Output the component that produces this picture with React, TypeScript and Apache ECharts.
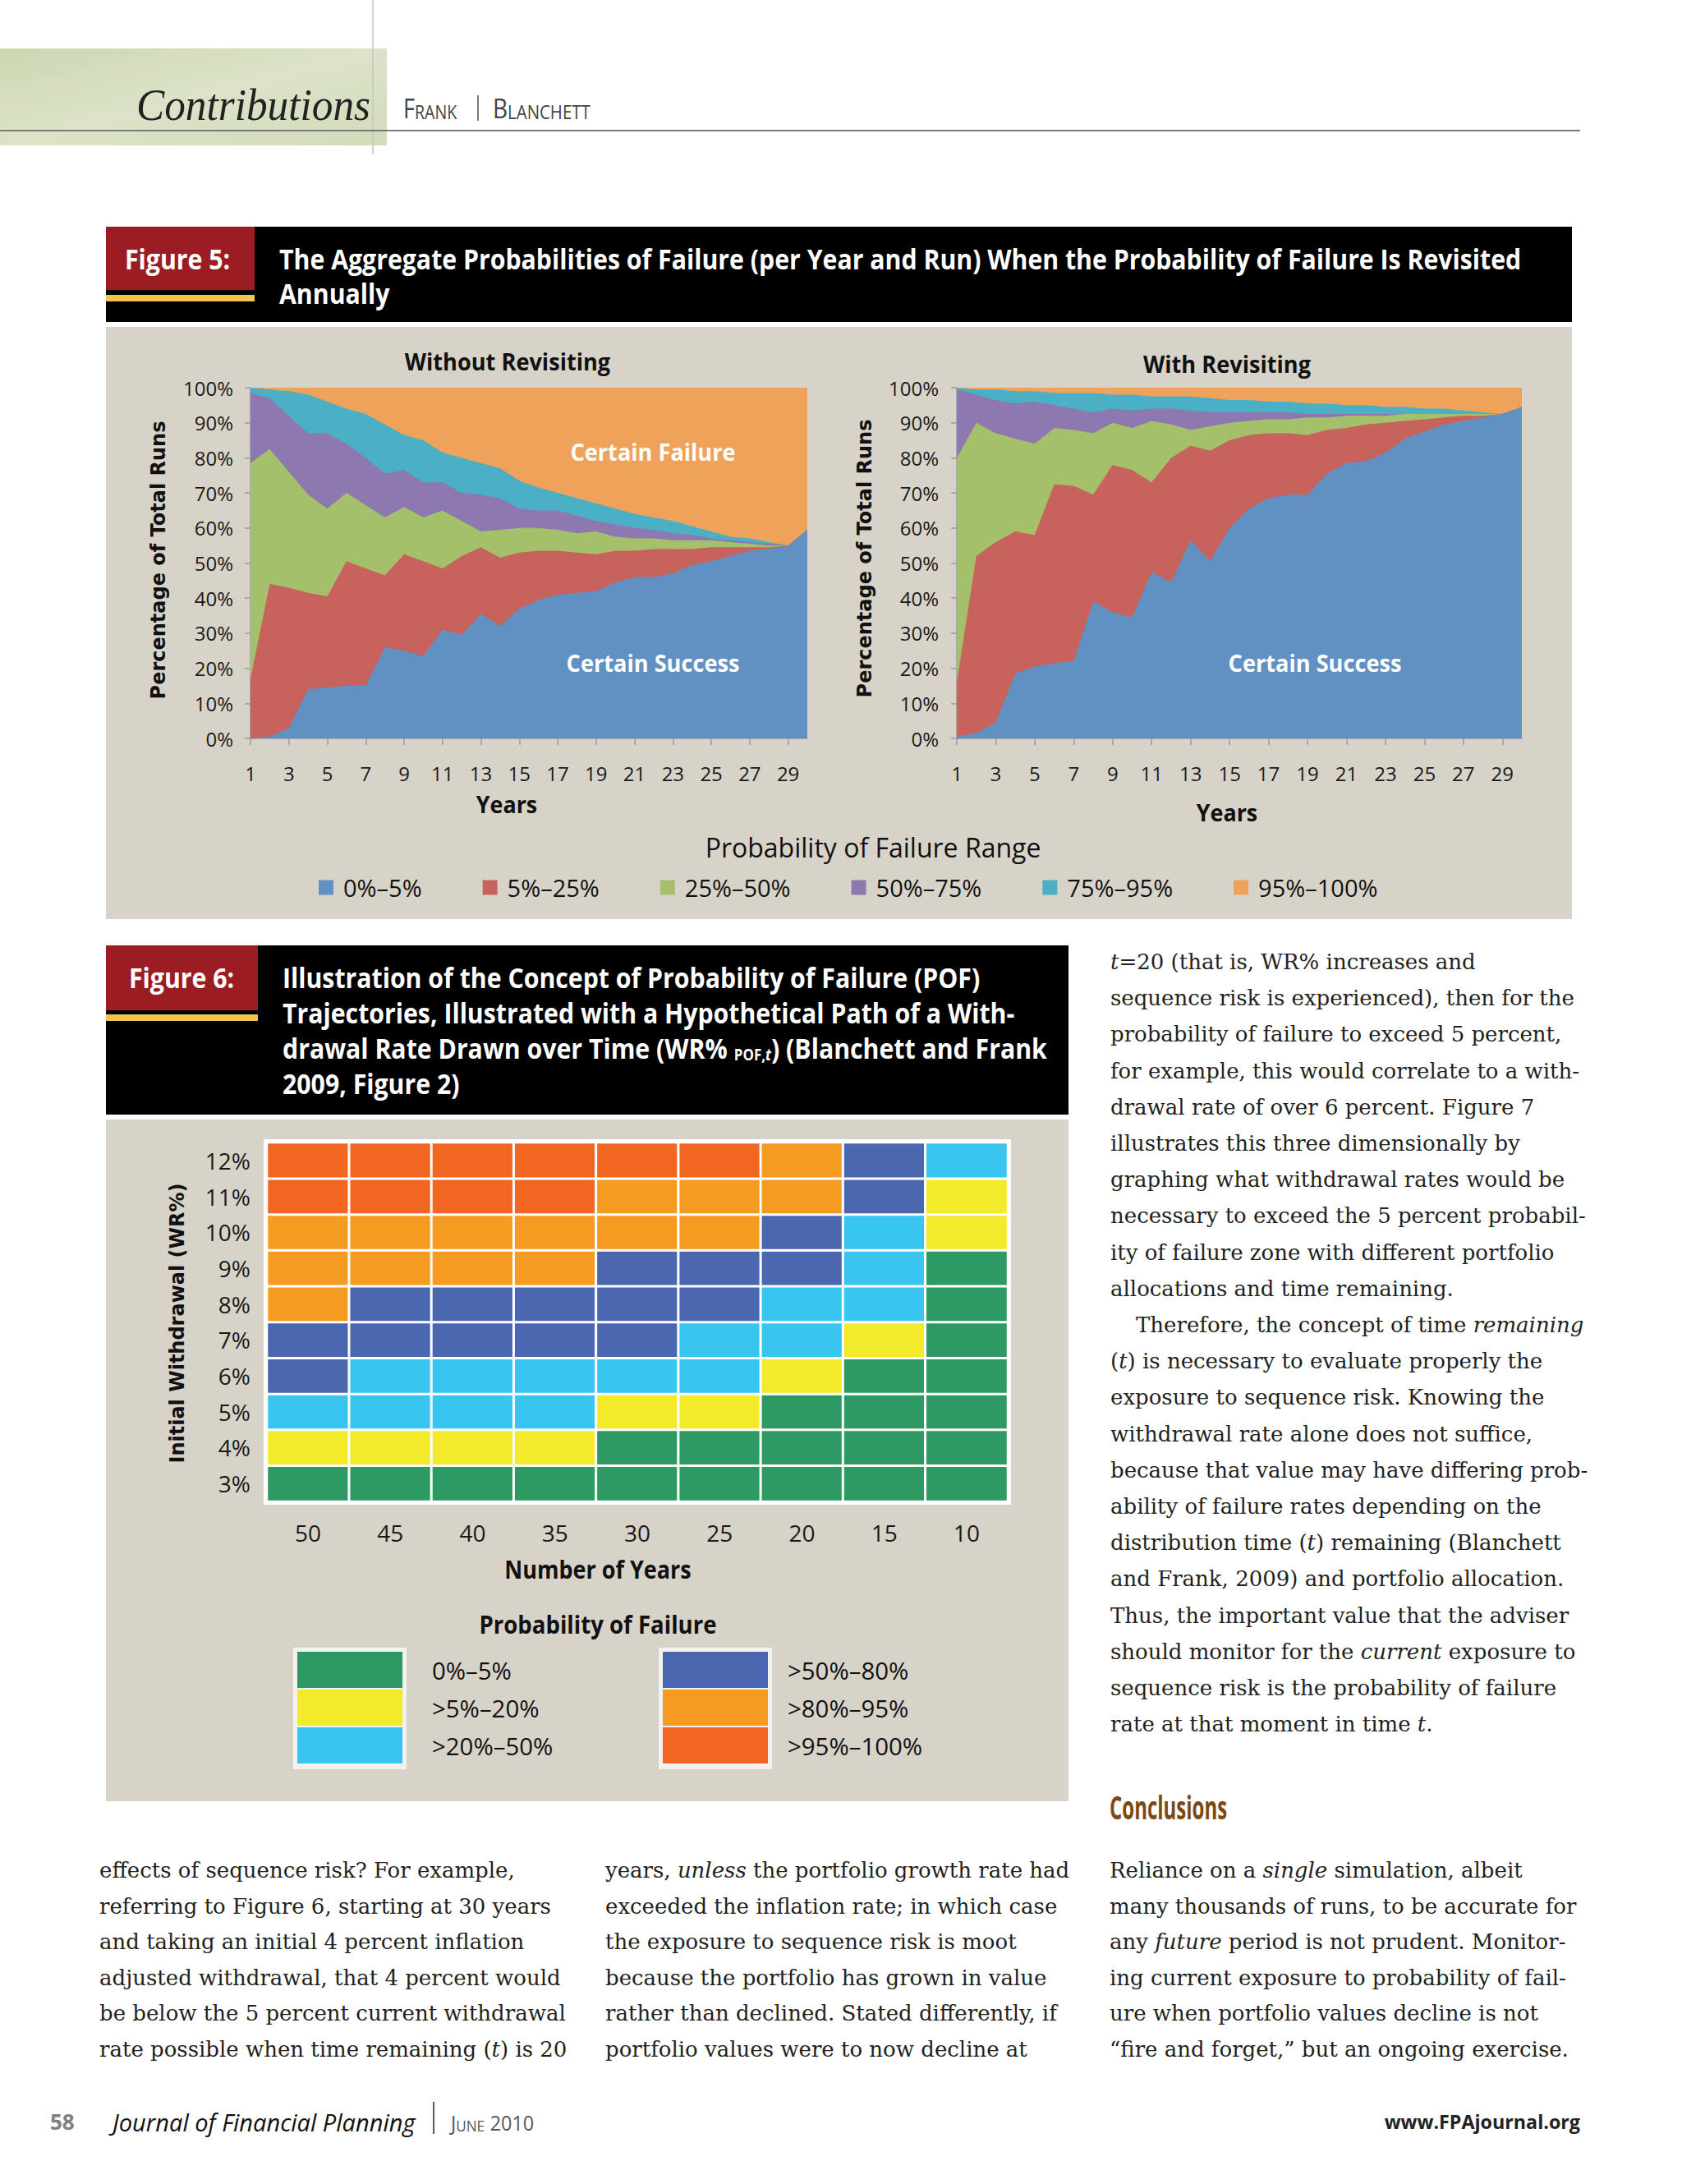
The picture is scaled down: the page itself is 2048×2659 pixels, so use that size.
import React, { useEffect, useRef } from 'react';
import * as echarts from 'echarts';

// ---------- Figure 5 data ----------
const YEARS = ['1','2','3','4','5','6','7','8','9','10','11','12','13','14','15','16','17','18','19','20','21','22','23','24','25','26','27','28','29','30'];
const RANGE_NAMES = ['0%–5%', '5%–25%', '25%–50%', '50%–75%', '75%–95%', '95%–100%'];
const RANGE_COLORS = ['#6191c3', '#c8625c', '#a5c06b', '#8d78b0', '#4bafc6', '#efa25a'];

// cumulative upper edge of each band (percent of total runs), "Without Revisiting"
const WITHOUT_UPTO_5 = [0, 0.5, 3, 14, 14.5, 15, 15, 26, 25, 23.5, 31, 29.5, 35.5, 32, 37, 39.5, 41, 41.5, 42, 44.5, 46, 46, 47, 49.5, 50.5, 52, 53.5, 54, 55, 59.5];
const WITHOUT_UPTO_25 = [17, 44, 43, 41.5, 40.5, 50.5, 48.5, 46.5, 52.5, 50.5, 48.5, 52, 54.5, 51.5, 53, 53.5, 53.5, 53, 52.5, 53.5, 53.5, 54, 54, 54, 54.5, 54.5, 54.5, 54.5, 55, 59.5];
const WITHOUT_UPTO_50 = [78.5, 82.5, 76, 69.5, 65.5, 70, 66.5, 63, 66, 63, 65, 62, 59, 59.5, 60, 60, 59.5, 58.5, 59, 57.5, 57, 57, 56.5, 56.5, 56.5, 56, 55.5, 55, 55, 59.5];
const WITHOUT_UPTO_75 = [98.5, 97, 92, 87, 87, 84, 80, 75.5, 76.5, 73, 73, 70, 69.5, 68.5, 65.5, 65, 65, 63.5, 62, 61, 60, 59.5, 58.5, 58, 57, 56.5, 56, 55.5, 55, 59.5];
const WITHOUT_UPTO_95 = [100, 99.5, 99, 98, 96, 94, 92.5, 89.5, 86.5, 85, 81.5, 80, 78.5, 77, 73.5, 71.5, 70, 68.5, 67, 65.5, 64, 63, 62, 60.5, 59, 57.5, 57, 56, 55, 59.5];
const WITHOUT_UPTO_100 = [100, 100, 100, 100, 100, 100, 100, 100, 100, 100, 100, 100, 100, 100, 100, 100, 100, 100, 100, 100, 100, 100, 100, 100, 100, 100, 100, 100, 100, 100];

// "With Revisiting"
const WITH_UPTO_5 = [0.5, 1.5, 4.5, 18.5, 20.5, 21.5, 22, 39, 36, 34.5, 47.5, 44.5, 56.5, 50.5, 60, 65.5, 68.5, 69.5, 69.5, 75.5, 78.5, 79, 81.5, 85.5, 87.5, 89.5, 90.5, 91.5, 92.5, 94.5];
const WITH_UPTO_25 = [16, 52, 56, 59, 58, 72.5, 72, 69.5, 78, 76.5, 73, 80, 83.5, 82, 85, 86.5, 87, 87, 86.5, 88, 88.5, 89.5, 90, 90.5, 91, 91.5, 92, 92, 92.5, 94.5];
const WITH_UPTO_50 = [80, 90, 87, 85.5, 84, 88.5, 88, 87, 90, 88.5, 90.5, 89.5, 88, 89, 90, 90.5, 91, 91, 91.5, 91.5, 92, 92, 92, 92.5, 92.5, 92.5, 92.5, 92.5, 92.5, 94.5];
const WITH_UPTO_75 = [99.5, 98, 96.5, 95.5, 96, 95, 94, 93, 94, 93.5, 94, 94, 93.5, 93, 93, 93, 93, 93, 92.5, 92.5, 92.5, 92.5, 92.5, 92.5, 92.5, 92.5, 92.5, 92.5, 92.5, 94.5];
const WITH_UPTO_95 = [100, 99.5, 99.5, 99, 99, 98.5, 98.5, 98.5, 98, 98, 97.5, 97.5, 97.5, 97, 96.5, 96.5, 96, 96, 95.5, 95.5, 95, 95, 94.5, 94.5, 94, 94, 93.5, 93, 92.5, 94.5];
const WITH_UPTO_100 = [100, 100, 100, 100, 100, 100, 100, 100, 100, 100, 100, 100, 100, 100, 100, 100, 100, 100, 100, 100, 100, 100, 100, 100, 100, 100, 100, 100, 100, 100];

// ---------- Figure 6 data ----------
const HORIZONS = ['50', '45', '40', '35', '30', '25', '20', '15', '10'];
const WR_LEVELS = ['3%', '4%', '5%', '6%', '7%', '8%', '9%', '10%', '11%', '12%'];
// band index per cell, rows from 3% (bottom) to 12% (top)
const POF_GRID = [
  [0, 0, 0, 0, 0, 0, 0, 0, 0],
  [1, 1, 1, 1, 0, 0, 0, 0, 0],
  [2, 2, 2, 2, 1, 1, 0, 0, 0],
  [3, 2, 2, 2, 2, 2, 1, 0, 0],
  [3, 3, 3, 3, 3, 2, 2, 1, 0],
  [4, 3, 3, 3, 3, 3, 2, 2, 0],
  [4, 4, 4, 4, 3, 3, 3, 2, 0],
  [4, 4, 4, 4, 4, 4, 3, 2, 1],
  [5, 5, 5, 5, 4, 4, 4, 3, 1],
  [5, 5, 5, 5, 5, 5, 4, 3, 2],
];
const POF_BANDS = ['0%–5%', '>5%–20%', '>20%–50%', '>50%–80%', '>80%–95%', '>95%–100%'];
const POF_COLORS = ['#2e9a63', '#f3ea2b', '#38c5f0', '#4a67b0', '#f69b21', '#f26622'];

// ---------- page text ----------
const RIGHT_COL = [
  '{i|t}=20 (that is, WR% increases and',
  'sequence risk is experienced), then for the',
  'probability of failure to exceed 5 percent,',
  'for example, this would correlate to a with-',
  'drawal rate of over 6 percent. Figure 7',
  'illustrates this three dimensionally by',
  'graphing what withdrawal rates would be',
  'necessary to exceed the 5 percent probabil-',
  'ity of failure zone with different portfolio',
  'allocations and time remaining.',
  'Therefore, the concept of time {i|remaining}',
  '({i|t}) is necessary to evaluate properly the',
  'exposure to sequence risk. Knowing the',
  'withdrawal rate alone does not suffice,',
  'because that value may have differing prob-',
  'ability of failure rates depending on the',
  'distribution time ({i|t}) remaining (Blanchett',
  'and Frank, 2009) and portfolio allocation.',
  'Thus, the important value that the adviser',
  'should monitor for the {i|current} exposure to',
  'sequence risk is the probability of failure',
  'rate at that moment in time {i|t}.',
];
const BOTTOM_COL1 = [
  'effects of sequence risk? For example,',
  'referring to Figure 6, starting at 30 years',
  'and taking an initial 4 percent inflation',
  'adjusted withdrawal, that 4 percent would',
  'be below the 5 percent current withdrawal',
  'rate possible when time remaining ({i|t}) is 20',
];
const BOTTOM_COL2 = [
  'years, {i|unless} the portfolio growth rate had',
  'exceeded the inflation rate; in which case',
  'the exposure to sequence risk is moot',
  'because the portfolio has grown in value',
  'rather than declined. Stated differently, if',
  'portfolio values were to now decline at',
];
const BOTTOM_COL3 = [
  'Reliance on a {i|single} simulation, albeit',
  'many thousands of runs, to be accurate for',
  'any {i|future} period is not prudent. Monitor-',
  'ing current exposure to probability of fail-',
  'ure when portfolio values decline is not',
  '“fire and forget,” but an ongoing exercise.',
];

const SANS = "'Open Sans', 'Noto Sans', sans-serif";
const WIDE = "'DejaVu Sans', 'Open Sans', sans-serif";
const SERIF = "'Liberation Serif', 'DejaVu Serif', serif";
const BODY = "'DejaVu Serif', 'Liberation Serif', serif";
const BODY_SIZE = 26;
const PANEL = '#d8d3c9';
const INK = '#231f20';

function T(x: number, y: number, text: string, o: any = {}) {
  return {
    type: 'text',
    x,
    y,
    z: 100,
    silent: true,
    scaleX: o.scaleX ?? 1,
    rotation: o.rotation ?? 0,
    style: {
      text,
      fill: o.fill ?? '#111',
      fontSize: o.size ?? 28,
      fontFamily: o.family ?? SANS,
      fontWeight: o.weight ?? 'normal',
      fontStyle: o.fstyle ?? 'normal',
      align: o.align ?? 'left',
      verticalAlign: o.valign ?? 'middle',
      rich: o.rich,
    },
  };
}
function R(x: number, y: number, w: number, h: number, fill: any, z = -10) {
  return { type: 'rect', z, silent: true, shape: { x, y, width: w, height: h }, style: { fill } };
}
function L(x1: number, y1: number, x2: number, y2: number, stroke: string, w: number) {
  return { type: 'line', z: 50, silent: true, shape: { x1, y1, x2, y2 }, style: { stroke, lineWidth: w } };
}

const bodyRich = { i: { fontStyle: 'italic', fontFamily: BODY, fontSize: BODY_SIZE, fill: INK } };
function body(x: number, y: number, text: string) {
  return T(x, y, text, { family: BODY, size: BODY_SIZE, fill: INK, rich: bodyRich });
}

function buildOption() {
  const g: any[] = [];
  // header
  g.push(R(0, 59, 471, 118, new echarts.graphic.LinearGradient(0, 0, 1, 1, [
    { offset: 0, color: '#cdd7b1' },
    { offset: 0.5, color: '#dce3c8' },
    { offset: 1, color: '#d2dbba' },
  ])));
  g.push(L(454, 0, 454, 188, '#c4c4c4', 1.5));
  g.push(L(0, 159, 1924, 159, '#7a7a7a', 2));
  g.push(T(166, 128, 'Contributions', { family: SERIF, fstyle: 'italic', size: 54, fill: '#222', scaleX: 0.95 }));
  const capsRich = {
    b: { fontSize: 33, fontFamily: SANS, fill: '#444', verticalAlign: 'bottom' },
    s: { fontSize: 24, fontFamily: SANS, fill: '#444', verticalAlign: 'bottom' },
  };
  g.push(T(491, 131, '{b|F}{s|RANK}', { rich: capsRich, scaleX: 0.82, fill: '#444' }));
  g.push(L(582, 116, 582, 147, '#555', 1.5));
  g.push(T(600, 131, '{b|B}{s|LANCHETT}', { rich: capsRich, scaleX: 0.85, fill: '#444' }));

  // Figure 5 header
  g.push(R(129, 276, 1785, 116, '#000'));
  g.push(R(129, 276, 181, 77, '#9b1c22', -9));
  g.push(R(129, 359, 181, 8, '#f4c24f', -9));
  const headOpt = { size: 34, weight: 'bold', fill: '#fff', scaleX: 0.89 };
  g.push(T(152, 315, 'Figure 5:', headOpt));
  g.push(T(340, 315, 'The Aggregate Probabilities of Failure (per Year and Run) When the Probability of Failure Is Revisited', headOpt));
  g.push(T(340, 357, 'Annually', headOpt));
  // Figure 5 panel
  g.push(R(129, 398, 1785, 721, PANEL));
  g.push(T(618, 440, 'Without Revisiting', { size: 28, weight: 'bold', align: 'center', scaleX: 0.97 }));
  g.push(T(1494, 443, 'With Revisiting', { size: 28, weight: 'bold', align: 'center', scaleX: 0.97 }));
  g.push(T(193, 682, 'Percentage of Total Runs', { size: 24, weight: 'bold', family: WIDE, align: 'center', rotation: Math.PI / 2 }));
  g.push(T(1053, 680, 'Percentage of Total Runs', { size: 24, weight: 'bold', family: WIDE, align: 'center', rotation: Math.PI / 2 }));
  g.push(T(617, 979, 'Years', { size: 28, weight: 'bold', align: 'center', scaleX: 0.96 }));
  g.push(T(1494, 989, 'Years', { size: 28, weight: 'bold', align: 'center', scaleX: 0.96 }));
  g.push(T(795, 550, 'Certain Failure', { size: 28, weight: 'bold', align: 'center', fill: '#fff', scaleX: 0.97 }));
  g.push(T(795, 807, 'Certain Success', { size: 28, weight: 'bold', align: 'center', fill: '#fff', scaleX: 0.97 }));
  g.push(T(1601, 807, 'Certain Success', { size: 28, weight: 'bold', align: 'center', fill: '#fff', scaleX: 0.97 }));
  g.push(T(1063, 1031, 'Probability of Failure Range', { size: 32, align: 'center', scaleX: 1.0 }));

  // Figure 6 header
  g.push(R(129, 1151, 1172, 206, '#000'));
  g.push(R(129, 1151, 185, 79, '#9b1c22', -9));
  g.push(R(129, 1235, 185, 8, '#f4c24f', -9));
  g.push(T(157, 1190, 'Figure 6:', headOpt));
  const subRich = {
    s: { fontSize: 19, fontFamily: SANS, fontWeight: 'bold', fill: '#fff', verticalAlign: 'bottom' },
    si: { fontSize: 19, fontFamily: SANS, fontWeight: 'bold', fontStyle: 'italic', fill: '#fff', verticalAlign: 'bottom' },
  };
  g.push(T(344, 1190, 'Illustration of the Concept of Probability of Failure (POF)', headOpt));
  g.push(T(344, 1233, 'Trajectories, Illustrated with a Hypothetical Path of a With-', headOpt));
  g.push(T(344, 1276, 'drawal Rate Drawn over Time (WR% {s|POF,}{si|t}) (Blanchett and Frank', { ...headOpt, rich: subRich }));
  g.push(T(344, 1319, '2009, Figure 2)', headOpt));
  // Figure 6 panel
  g.push(R(129, 1363, 1172, 830, PANEL));
  g.push(R(321, 1387, 910, 445, '#ffffff', -5));
  g.push(T(216, 1611, 'Initial Withdrawal (WR%)', { size: 24, weight: 'bold', family: WIDE, align: 'center', rotation: Math.PI / 2 }));
  g.push(T(728, 1910, 'Number of Years', { size: 30, weight: 'bold', align: 'center', scaleX: 0.9 }));
  g.push(T(728, 1977, 'Probability of Failure', { size: 30, weight: 'bold', align: 'center', scaleX: 0.92 }));
  // Figure 6 legend
  const legX = [362, 807];
  const txtX = [526, 959];
  const rowY = [2011, 2057, 2103];
  g.push(R(357, 2006, 138, 148, '#f4f2ee', -4));
  g.push(R(802, 2006, 138, 148, '#f4f2ee', -4));
  POF_BANDS.forEach((band, i) => {
    const col = Math.floor(i / 3);
    const row = i % 3;
    g.push(R(legX[col], rowY[row], 128, 44, POF_COLORS[i], -3));
    g.push(T(txtX[col], rowY[row] + 22, band, { size: 30, scaleX: 0.98 }));
  });

  // right text column
  RIGHT_COL.forEach((line, i) => {
    g.push(body(1352 + (i === 10 ? 31 : 0), 1171 + i * 44.2, line));
  });
  g.push(T(1351, 2200, 'Conclusions', { size: 40, weight: 'bold', fill: '#7b4a12', scaleX: 0.6 }));
  BOTTOM_COL1.forEach((line, i) => g.push(body(121, 2277 + i * 43.5, line)));
  BOTTOM_COL2.forEach((line, i) => g.push(body(737, 2277 + i * 43.5, line)));
  BOTTOM_COL3.forEach((line, i) => g.push(body(1351, 2277 + i * 43.5, line)));

  // footer
  g.push(T(61, 2583, '58', { size: 26, weight: 'bold', fill: '#808080' }));
  g.push(T(137, 2583, 'Journal of Financial Planning', { size: 29, fstyle: 'italic', fill: '#111', scaleX: 1.0 }));
  g.push(L(528, 2559, 528, 2598, '#222', 1.5));
  const footRich = {
    b: { fontSize: 26, fontFamily: SANS, fill: '#555', verticalAlign: 'bottom' },
    s: { fontSize: 19, fontFamily: SANS, fill: '#555', verticalAlign: 'bottom' },
  };
  g.push(T(549, 2583, '{b|J}{s|UNE} {b|2010}', { rich: footRich, scaleX: 0.9 }));
  g.push(T(1924, 2583, 'www.FPAjournal.org', { size: 24, weight: 'bold', align: 'right', fill: '#222', scaleX: 0.97 }));

  // ---------- series ----------
  const series: any[] = [];
  const withoutLayers = [WITHOUT_UPTO_5, WITHOUT_UPTO_25, WITHOUT_UPTO_50, WITHOUT_UPTO_75, WITHOUT_UPTO_95, WITHOUT_UPTO_100];
  const withLayers = [WITH_UPTO_5, WITH_UPTO_25, WITH_UPTO_50, WITH_UPTO_75, WITH_UPTO_95, WITH_UPTO_100];
  [withoutLayers, withLayers].forEach((layers, gi) => {
    for (let k = 5; k >= 0; k--) {
      const c = RANGE_COLORS[k];
      series.push({
        type: 'line',
        name: RANGE_NAMES[k],
        xAxisIndex: gi,
        yAxisIndex: gi,
        data: layers[k],
        symbol: 'none',
        showSymbol: false,
        silent: true,
        lineStyle: { width: 0, color: c },
        itemStyle: { color: c },
        areaStyle: { color: c, opacity: 1 },
        z: 2,
      });
    }
  });
  const heatData: number[][] = [];
  POF_GRID.forEach((row, yi) => row.forEach((v, xi) => heatData.push([xi, yi, v])));
  series.push({
    type: 'heatmap',
    xAxisIndex: 2,
    yAxisIndex: 2,
    data: heatData,
    silent: true,
    itemStyle: { borderColor: '#ffffff', borderWidth: 3 },
    emphasis: { disabled: true },
  });

  const axisGray = '#9b9b9b';
  const areaX = (gridIndex: number) => ({
    type: 'category',
    gridIndex,
    data: YEARS,
    boundaryGap: false,
    axisLine: { show: true, lineStyle: { color: axisGray, width: 1.5 } },
    axisTick: { show: true, interval: 1, length: 8, lineStyle: { color: axisGray, width: 1.5 } },
    axisLabel: { interval: 1, margin: 30, fontSize: 24, fontFamily: SANS, color: '#1a1a1a' },
    splitLine: { show: false },
  });
  const areaY = (gridIndex: number, margin: number) => ({
    type: 'value',
    gridIndex,
    min: 0,
    max: 100,
    interval: 10,
    axisLine: { show: true, lineStyle: { color: axisGray, width: 1.5 } },
    axisTick: { show: true, length: 7, lineStyle: { color: axisGray, width: 1.5 } },
    axisLabel: { formatter: '{value}%', margin, fontSize: 24, fontFamily: SANS, color: '#1a1a1a' },
    splitLine: { show: false },
  });

  return {
    animation: false,
    textStyle: { fontFamily: SANS },
    grid: [
      { left: 305, top: 472, width: 678, height: 427 },
      { left: 1165, top: 472, width: 688, height: 427 },
      { left: 325, top: 1391, width: 902, height: 437 },
    ],
    xAxis: [
      areaX(0),
      areaX(1),
      {
        type: 'category',
        gridIndex: 2,
        data: HORIZONS,
        axisLine: { show: false },
        axisTick: { show: false },
        axisLabel: { margin: 24, fontSize: 28, fontFamily: SANS, color: '#1a1a1a' },
        splitLine: { show: false },
      },
    ],
    yAxis: [
      areaY(0, 21),
      areaY(1, 22),
      {
        type: 'category',
        gridIndex: 2,
        data: WR_LEVELS,
        axisLine: { show: false },
        axisTick: { show: false },
        axisLabel: { margin: 20, fontSize: 28, fontFamily: SANS, color: '#1a1a1a' },
        splitLine: { show: false },
      },
    ],
    legend: {
      data: RANGE_NAMES,
      left: 388,
      top: 1066,
      padding: 0,
      icon: 'rect',
      itemWidth: 18,
      itemHeight: 18,
      itemGap: 74,
      selectedMode: false,
      textStyle: { fontSize: 29, fontFamily: SANS, color: '#111', padding: [0, 0, 0, 7] },
    },
    visualMap: {
      type: 'piecewise',
      show: false,
      seriesIndex: 12,
      dimension: 2,
      pieces: POF_COLORS.map((color, i) => ({ value: i, color })),
    },
    graphic: { elements: g },
    series,
  };
}

export default function App() {
  const ref = useRef<HTMLDivElement>(null);
  useEffect(() => {
    document.body.style.margin = '0';
    const chart = echarts.init(ref.current as HTMLDivElement, undefined, { renderer: 'svg' });
    chart.setOption(buildOption() as any);
    return () => chart.dispose();
  }, []);
  return <div ref={ref} style={{ width: 2048, height: 2659, background: '#ffffff' }} />;
}
